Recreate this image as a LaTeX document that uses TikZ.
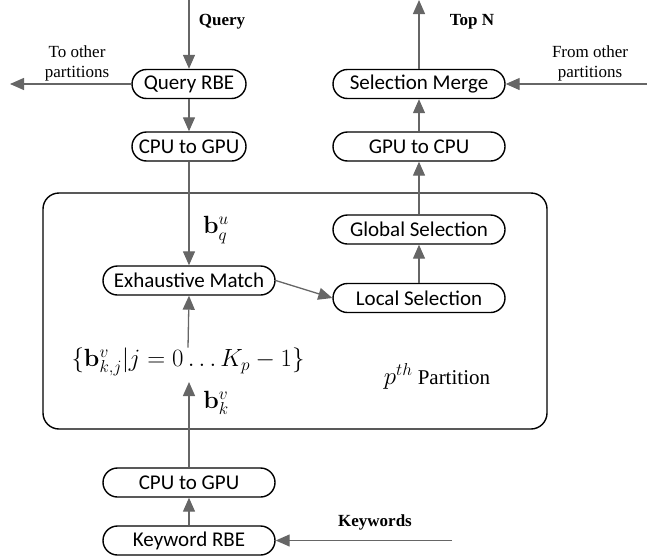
\documentclass[tikz,border=0pt]{standalone}
\usepackage[no-math]{fontspec}
\setmainfont{Liberation Serif}
\newfontfamily\boxfont{Carlito}
\usetikzlibrary{shapes.misc,arrows.meta}
\definecolor{arrowgray}{HTML}{666666}
\begin{document}
\begin{tikzpicture}[x=1pt,y=-1pt,
  proc/.style={draw=black,line width=1.4pt,rounded rectangle,minimum height=29pt,inner xsep=3pt,inner ysep=0pt,font=\boxfont\fontsize{21}{24}\selectfont},
  narrow/.style={proc,minimum width=120pt},
  wide/.style={proc,minimum width=178pt},
  arr/.style={draw=arrowgray,line width=1.3pt,-{Triangle[length=14pt,width=12pt]}},
  lbl/.style={align=center,font=\fontsize{17}{20}\selectfont},
  boldlbl/.style={font=\bfseries\fontsize{17}{20}\selectfont},
  mth/.style={inner sep=0pt,font=\fontsize{25}{30}\selectfont}
]
\useasboundingbox (0,0) rectangle (647,557);

% partition box
\node[draw=black,line width=1.4pt,rounded corners=16pt,minimum width=504pt,minimum height=236pt,inner sep=0pt] (part) at (295,311) {};

% nodes
\node[narrow] (qrbe) at (189,84) {Query RBE};
\node[narrow] (c2g1) at (189,146.5) {CPU to GPU};
\node[wide] (em) at (189,280.5) {Exhaustive Match};
\node[wide] (sm) at (419,84) {Selection Merge};
\node[wide] (g2c) at (419,146.5) {GPU to CPU};
\node[wide] (gs) at (419,229.5) {Global Selection};
\node[wide] (ls) at (419,298) {Local Selection};
\node[wide] (c2g2) at (189,482.5) {CPU to GPU};
\node[wide] (krbe) at (189,540.5) {Keyword RBE};

% labels
\node[boldlbl] (qlbl) at (222,22) {Query};
\node[boldlbl] (tlbl) at (472,22) {Top N};
\node[boldlbl] (klbl) at (375,522) {Keywords};
\node[lbl] (tolbl) at (77,63) {To other\\partitions};
\node[lbl] (fromlbl) at (590,63) {From other\\partitions};
\node[mth] (bq) at (216,230) {$\mathbf{b}^u_q$};
\node[mth] (bk) at (216,403) {$\mathbf{b}^v_k$};
\node[mth] (set) at (188,362) {$\{\mathbf{b}^v_{k,j}|j=0\ldots K_p-1\}$};
\node[inner sep=0pt] (plbl) at (437,376) {\fontsize{25}{30}\selectfont$p^{th}$\fontsize{21}{24}\selectfont\ Partition};

% free ends
\coordinate (qin) at (189,0);
\coordinate (toother) at (10,84);
\coordinate (topn) at (419,0);
\coordinate (fromother) at (647,84);
\coordinate (kwin) at (452,540.5);
\coordinate (kin) at (189,382);

% connectors
\draw[arr] (qin) -- (qrbe.north);
\draw[arr] (qrbe.west) -- (toother);
\draw[arr] (qrbe.south) -- (c2g1.north);
\draw[arr] (c2g1.south) -- (em.north);
\draw[arr] (set.north) -- (em.south);
\draw[arr] (c2g2.north) -- (kin);
\draw[arr] (krbe.north) -- (c2g2.south);
\draw[arr] (kwin) -- (krbe.east);
\draw[arr] (em.east) -- (ls.west);
\draw[arr] (ls.north) -- (gs.south);
\draw[arr] (gs.north) -- (g2c.south);
\draw[arr] (g2c.north) -- (sm.south);
\draw[arr] (sm.north) -- (topn);
\draw[arr] (fromother) -- (sm.east);
\end{tikzpicture}
\end{document}
